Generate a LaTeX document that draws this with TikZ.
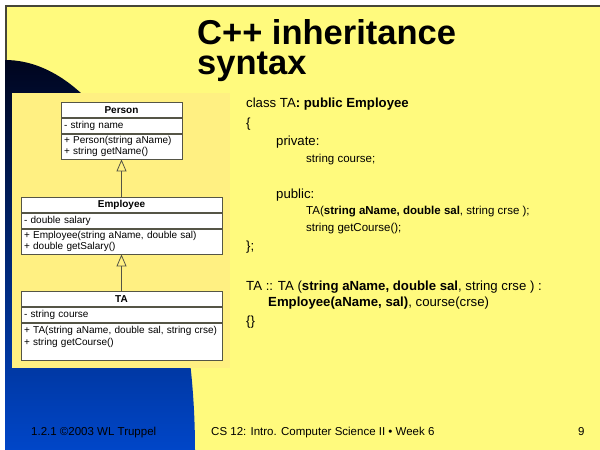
\documentclass[tikz,border=0pt]{standalone}
\usepackage{fontspec}
\setmainfont{Liberation Sans}
\usetikzlibrary{positioning,arrows.meta}

\definecolor{slideyellow}{RGB}{255,250,125}
\definecolor{panelyellow}{RGB}{255,240,130}
\definecolor{navy}{RGB}{0,5,30}
\definecolor{midblue}{RGB}{0,40,140}
\definecolor{royal}{RGB}{0,70,200}
\definecolor{umlline}{RGB}{85,85,70}
\definecolor{rimgray}{RGB}{70,70,55}

\tikzset{
  classtitle/.style={draw=umlline, fill=white, line width=0.8pt, minimum height=15pt, inner sep=0pt, anchor=north, font=\fontsize{10}{12}\selectfont\bfseries},
  classrow/.style={draw=umlline, fill=white, line width=0.8pt, inner xsep=3pt, inner ysep=2pt, align=left, font=\fontsize{10}{11.5}\selectfont},
  code/.style={anchor=base west, inner sep=0pt, font=\fontsize{13.2}{16}\selectfont},
  subcode/.style={anchor=base west, inner sep=0pt, font=\fontsize{11.5}{14}\selectfont},
  footer/.style={anchor=base west, inner sep=0pt, font=\fontsize{11.5}{14}\selectfont},
  heading/.style={anchor=base west, inner sep=0pt, align=left, font=\fontsize{34.5}{30}\selectfont\bfseries},
  inherits/.style={draw=umlline, line width=0.8pt, -{Triangle[open, length=12pt, width=10pt]}}
}

\begin{document}
\begin{tikzpicture}[x=1pt,y=-1pt]
\useasboundingbox (0,0) rectangle (600,450);
\fill[white] (0,0) rectangle (600,450);

% slide background
\fill[slideyellow] (5,5) rectangle (600,450);
\draw[rimgray, line width=2pt] (6,450) -- (6,6) -- (600,6);
\shade[top color=navy, middle color=midblue, bottom color=royal] (5,60) .. controls (110,60) and (195,239) .. (195,450) -- (5,450) -- cycle;

% UML panel
\fill[panelyellow] (12,93) rectangle (230,368);

\node[classtitle, minimum width=121pt] (person) at (121.5,102) {Person};
\node[classrow, text width=115pt, minimum height=15pt, below=0pt of person] (person-attr) {- string name};
\node[classrow, text width=115pt, minimum height=25pt, below=0pt of person-attr] (person-ops) {+ Person(string aName)\\+ string getName()};

\node[classtitle, minimum width=201pt] (employee) at (121.5,197) {Employee};
\node[classrow, text width=195pt, minimum height=15pt, below=0pt of employee] (employee-attr) {- double salary};
\node[classrow, text width=195pt, minimum height=25pt, below=0pt of employee-attr] (employee-ops) {+ Employee(string aName, double sal)\\+ double getSalary()};

\node[classtitle, minimum width=201pt] (ta) at (121.5,291) {TA};
\node[classrow, text width=195pt, minimum height=15pt, below=0pt of ta] (ta-attr) {- string course};
\node[classrow, text width=195pt, minimum height=37pt, below=0pt of ta-attr] (ta-ops) {+ TA(string aName, double sal, string crse)\\+ string getCourse()\\\mbox{}};

\draw[inherits] (employee.north) -- (person-ops.south);
\draw[inherits] (ta.north) -- (employee-ops.south);

% title
\node[heading] (title) at (197,74) {C++ inheritance\\syntax};

% class declaration
\node[code] (head) at (246,107) {class TA\textbf{: public Employee}};
\node[code] (open) at (246,127) {\{};
\node[code] (priv) at (276,145) {private:};
\node[subcode] (field) at (306,162) {string course;};
\node[code] (pub) at (276,198) {public:};
\node[subcode] (ctor) at (306,214) {TA(\textbf{string aName, double sal}, string crse );};
\node[subcode] (getter) at (306,231) {string getCourse();};
\node[code] (close) at (246,250) {\};};

% constructor definition
\node[code] (def) at (246,290) {TA :: TA (\textbf{string aName, double sal}, string crse ) :};
\node[code] (init) at (268,306) {\textbf{Employee(aName, sal)}, course(crse)};
\node[code] (body) at (246,325) {\{\}};

% footer
\node[footer] (credit) at (31,435) {1.2.1 ©2003 WL Truppel};
\node[footer] (course) at (211,435) {CS 12: Intro. Computer Science II • Week 6};
\node[footer] (page) at (578,435) {9};
\end{tikzpicture}
\end{document}
